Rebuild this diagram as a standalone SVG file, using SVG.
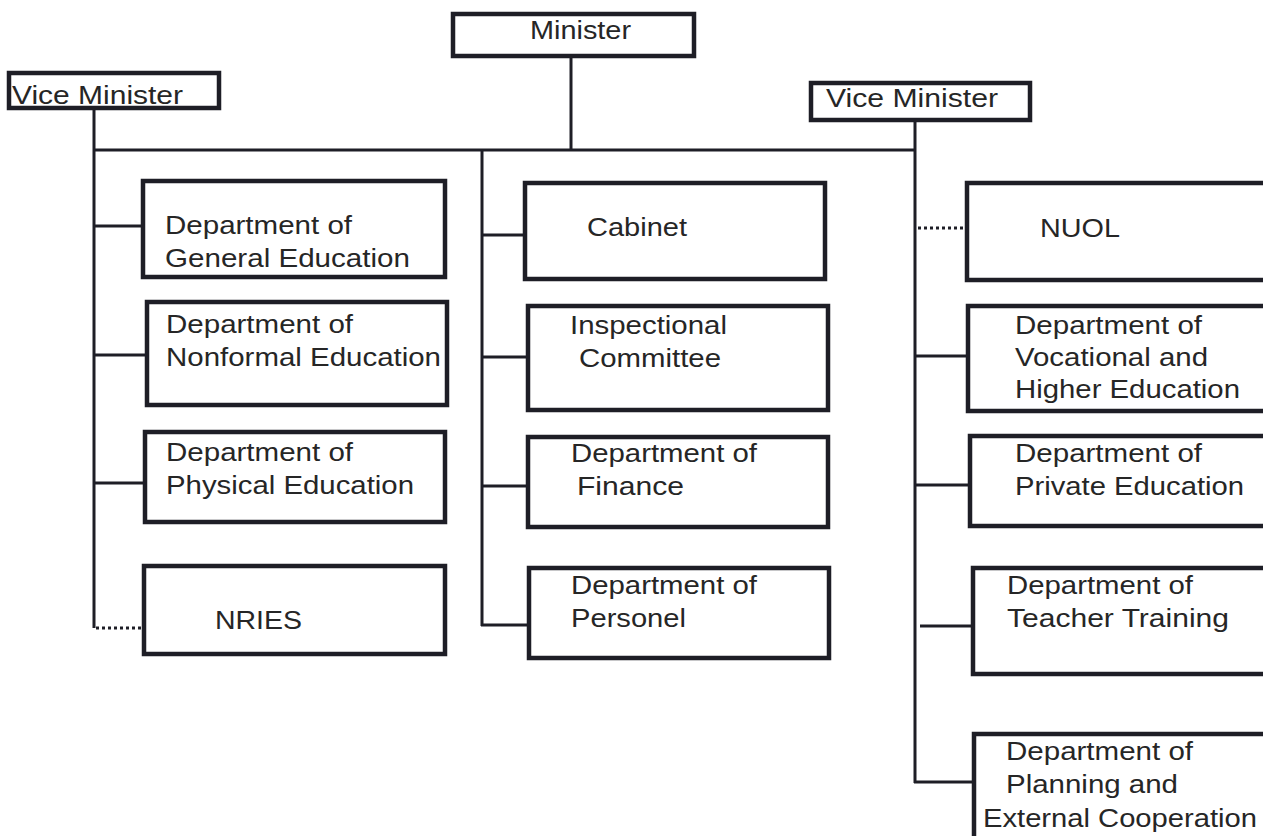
<svg xmlns="http://www.w3.org/2000/svg" width="1263" height="836" viewBox="0 0 1263 836">
<style>
  .box { fill: #ffffff; stroke: #1e1e26; stroke-width: 4.5; }
  .ln { fill: none; stroke: #1e1e26; stroke-width: 3; }
  .dot { fill: none; stroke: #1e1e26; stroke-width: 3; stroke-dasharray: 3 3; }
  text { font-family: "Liberation Sans", Arial, sans-serif; font-size: 25px; fill: #262626; }
</style>
<rect width="1263" height="836" fill="#ffffff"/>

<g id="connectors">
  <line class="ln" x1="571" y1="56" x2="571" y2="151"/>
  <line class="ln" x1="94" y1="108" x2="94" y2="628"/>
  <line class="ln" x1="94" y1="150" x2="916" y2="150"/>
  <line class="ln" x1="915" y1="120" x2="915" y2="783"/>
  <line class="ln" x1="482" y1="150" x2="482" y2="626"/>
  <line class="ln" x1="94" y1="226" x2="143" y2="226"/>
  <line class="ln" x1="94" y1="355" x2="147" y2="355"/>
  <line class="ln" x1="94" y1="483" x2="145" y2="483"/>
  <line class="dot" x1="96" y1="628" x2="144" y2="628"/>
  <line class="ln" x1="482" y1="235" x2="525" y2="235"/>
  <line class="ln" x1="482" y1="357" x2="528" y2="357"/>
  <line class="ln" x1="482" y1="486" x2="528" y2="486"/>
  <line class="ln" x1="481" y1="625" x2="529" y2="625"/>
  <line class="dot" x1="918" y1="228" x2="967" y2="228"/>
  <line class="ln" x1="915" y1="356" x2="968" y2="356"/>
  <line class="ln" x1="915" y1="485" x2="970" y2="485"/>
  <line class="ln" x1="920" y1="626" x2="973" y2="626"/>
  <line class="ln" x1="914" y1="782" x2="974" y2="782"/>
</g>

<g id="minister">
  <rect class="box" x="453" y="14" width="241" height="42"/>
  <text x="530" y="39" textLength="101" lengthAdjust="spacingAndGlyphs">Minister</text>
</g>
<g id="vice-minister-left">
  <rect class="box" x="9" y="73" width="210" height="35"/>
  <text x="12" y="104" textLength="171" lengthAdjust="spacingAndGlyphs">Vice Minister</text>
</g>
<g id="vice-minister-right">
  <rect class="box" x="811" y="83" width="219" height="37"/>
  <text x="826" y="107" textLength="172" lengthAdjust="spacingAndGlyphs">Vice Minister</text>
</g>

<g id="dept-general-education">
  <rect class="box" x="143" y="181" width="302" height="96"/>
  <text x="165" y="234" textLength="187" lengthAdjust="spacingAndGlyphs">Department of</text>
  <text x="165" y="267" textLength="245" lengthAdjust="spacingAndGlyphs">General Education</text>
</g>
<g id="dept-nonformal-education">
  <rect class="box" x="147" y="302" width="300" height="103"/>
  <text x="166" y="333" textLength="187" lengthAdjust="spacingAndGlyphs">Department of</text>
  <text x="166" y="366" textLength="275" lengthAdjust="spacingAndGlyphs">Nonformal Education</text>
</g>
<g id="dept-physical-education">
  <rect class="box" x="145" y="432" width="300" height="90"/>
  <text x="166" y="461" textLength="187" lengthAdjust="spacingAndGlyphs">Department of</text>
  <text x="166" y="494" textLength="248" lengthAdjust="spacingAndGlyphs">Physical Education</text>
</g>
<g id="nries">
  <rect class="box" x="144" y="566" width="301" height="88"/>
  <text x="215" y="629" textLength="87" lengthAdjust="spacingAndGlyphs">NRIES</text>
</g>

<g id="cabinet">
  <rect class="box" x="525" y="183" width="300" height="96"/>
  <text x="587" y="236" textLength="100" lengthAdjust="spacingAndGlyphs">Cabinet</text>
</g>
<g id="inspectional-committee">
  <rect class="box" x="528" y="306" width="300" height="104"/>
  <text x="570" y="334" textLength="157" lengthAdjust="spacingAndGlyphs">Inspectional</text>
  <text x="579" y="367" textLength="142" lengthAdjust="spacingAndGlyphs">Committee</text>
</g>
<g id="dept-finance">
  <rect class="box" x="528" y="437" width="300" height="90"/>
  <text x="571" y="462" textLength="186" lengthAdjust="spacingAndGlyphs">Department of</text>
  <text x="577" y="495" textLength="107" lengthAdjust="spacingAndGlyphs">Finance</text>
</g>
<g id="dept-personel">
  <rect class="box" x="529" y="568" width="300" height="90"/>
  <text x="571" y="594" textLength="186" lengthAdjust="spacingAndGlyphs">Department of</text>
  <text x="571" y="627" textLength="115" lengthAdjust="spacingAndGlyphs">Personel</text>
</g>

<g id="nuol">
  <rect class="box" x="967" y="183" width="310" height="97"/>
  <text x="1040" y="237" textLength="80" lengthAdjust="spacingAndGlyphs">NUOL</text>
</g>
<g id="dept-vocational-higher-education">
  <rect class="box" x="968" y="306" width="310" height="105"/>
  <text x="1015" y="334" textLength="187" lengthAdjust="spacingAndGlyphs">Department of</text>
  <text x="1015" y="366" textLength="193" lengthAdjust="spacingAndGlyphs">Vocational and</text>
  <text x="1015" y="398" textLength="225" lengthAdjust="spacingAndGlyphs">Higher Education</text>
</g>
<g id="dept-private-education">
  <rect class="box" x="970" y="436" width="310" height="90"/>
  <text x="1015" y="462" textLength="187" lengthAdjust="spacingAndGlyphs">Department of</text>
  <text x="1015" y="495" textLength="229" lengthAdjust="spacingAndGlyphs">Private Education</text>
</g>
<g id="dept-teacher-training">
  <rect class="box" x="973" y="568" width="310" height="106"/>
  <text x="1007" y="594" textLength="186" lengthAdjust="spacingAndGlyphs">Department of</text>
  <text x="1007" y="627" textLength="222" lengthAdjust="spacingAndGlyphs">Teacher Training</text>
</g>
<g id="dept-planning-external-cooperation">
  <rect class="box" x="974" y="734" width="310" height="120"/>
  <text x="1006" y="760" textLength="187" lengthAdjust="spacingAndGlyphs">Department of</text>
  <text x="1006" y="793" textLength="172" lengthAdjust="spacingAndGlyphs">Planning and</text>
  <text x="983" y="827" textLength="274" lengthAdjust="spacingAndGlyphs">External Cooperation</text>
</g>
</svg>
